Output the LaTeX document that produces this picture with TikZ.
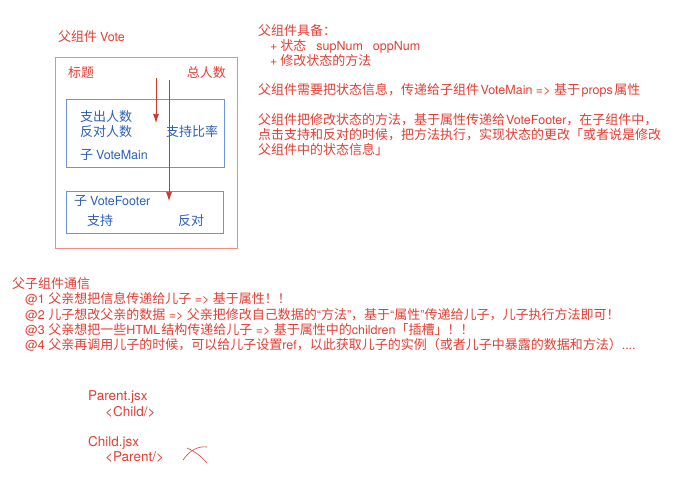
\documentclass[tikz,border=0pt]{standalone}
\usepackage{fontspec}
\setmainfont{Noto Sans CJK SC}
\newfontfamily\latfam{TeX Gyre Heros}
\newcommand{\lsf}[1]{{\latfam\fontsize{12.5}{15}\selectfont #1}}
\newcommand{\codesf}[1]{{\latfam\fontsize{13.5}{16}\selectfont #1}}
\usetikzlibrary{arrows.meta}
\definecolor{redtext}{RGB}{226,62,52}
\definecolor{bluetext}{RGB}{45,95,185}
\definecolor{outerline}{RGB}{242,140,130}
\definecolor{innerline}{RGB}{110,150,215}
\definecolor{arrowred}{RGB}{205,55,45}
\tikzset{
  rt/.style={inner sep=0pt, anchor=base west, text=redtext, font=\fontsize{13}{15}\selectfont},
  rte/.style={rt, anchor=base east},
  bt/.style={inner sep=0pt, anchor=base west, text=bluetext, font=\fontsize{13}{15}\selectfont},
  outerbox/.style={draw=outerline, line width=0.9pt, inner sep=0pt, anchor=north west},
  innerbox/.style={draw=innerline, line width=0.9pt, inner sep=0pt, anchor=north west},
  flow/.style={draw=arrowred, line width=0.7pt, -{Latex[length=9pt,width=6pt]}},
  scrawl/.style={draw=redtext, line width=0.6pt, line cap=round}
}
\begin{document}
\begin{tikzpicture}[x=1pt,y=-1pt]
\fill[white] (0,0) rectangle (682,502);
\useasboundingbox (0,0) rectangle (682,502);

% left diagram
\node[rt] (vote) at (58,42) {父组件 \lsf{Vote}};
\node[outerbox, minimum width=182pt, minimum height=191pt] (outer) at (55,57) {};
\node[rt] (title) at (68,78) {标题};
\node[rte] (total) at (226,78) {总人数};

\node[innerbox, minimum width=158pt, minimum height=68pt] (mainbox) at (66,99) {};
\node[bt] (sup) at (80,121.5) {支出人数};
\node[bt] (opp) at (80,136.5) {反对人数};
\node[bt] (rate) at (166,136.5) {支持比率};
\node[bt] (mainlbl) at (80,159.5) {子 \lsf{VoteMain}};

\node[innerbox, minimum width=157pt, minimum height=42pt] (footbox) at (66,191) {};
\node[bt] (footlbl) at (74,206) {子 \lsf{VoteFooter}};
\node[bt] (support) at (87,226) {支持};
\node[bt] (against) at (178,226) {反对};

\coordinate (a1s) at (156,78);
\coordinate (a1e) at (156,123);
\coordinate (a2s) at (169,80);
\coordinate (a2e) at (169,201);
\draw[flow] (a1s) -- (a1e);
\draw[flow] (a2s) -- (a2e);

% right notes
\node[rt] (r1) at (258,36) {父组件具备：};
\node[rt] (r2) at (270,50.5) {\lsf{+} 状态\hspace{10pt}\lsf{supNum}\hspace{10pt}\lsf{oppNum}};
\node[rt] (r3) at (270,66) {\lsf{+} 修改状态的方法};
\node[rt] (r4) at (258,95) {父组件需要把状态信息，传递给子组件\hspace{1.5pt}\lsf{VoteMain => }基于\hspace{1.5pt}\lsf{props}\hspace{1.5pt}属性};
\node[rt] (r5) at (258,125) {父组件把修改状态的方法，基于属性传递给\hspace{1pt}\lsf{VoteFooter}，在子组件中，};
\node[rt] (r6) at (258,140) {点击支持和反对的时候，把方法执行，实现状态的更改「或者说是修改};
\node[rt] (r7) at (258,155) {父组件中的状态信息」};

% bottom notes
\node[rt] (b0) at (12,288.5) {父子组件通信};
\node[rt] (b1) at (25,304) {\lsf{@1 }父亲想把信息传递给儿子\lsf{ => }基于属性！！};
\node[rt] (b2) at (25,319.5) {\lsf{@2 }儿子想改父亲的数据\lsf{ => }父亲把修改自己数据的\lsf{“}方法\lsf{”}，基于\lsf{“}属性\lsf{”}传递给儿子，儿子执行方法即可！};
\node[rt] (b3) at (25,334.5) {\lsf{@3 }父亲想把一些\lsf{HTML}\hspace{1pt}结构传递给儿子\lsf{ => }基于属性中的\lsf{children}「插槽」！！};
\node[rt] (b4) at (25,349.5) {\lsf{@4 }父亲再调用儿子的时候，可以给儿子设置\lsf{ref}，以此获取儿子的实例（或者儿子中暴露的数据和方法）\lsf{....}};

% code
\node[rt] (c1) at (88,400) {\codesf{Parent.jsx}};
\node[rt] (c2) at (105,416.5) {\codesf{<Child/>}};
\node[rt] (c3) at (88,446.5) {\codesf{Child.jsx}};
\node[rt] (c4) at (105,461.5) {\codesf{<Parent/>}};

% cross mark
\draw[scrawl] (183,460) .. controls (190,450) and (198,446) .. (207,447);
\draw[scrawl] (187,448) .. controls (196,452) and (202,457) .. (207,463);
\end{tikzpicture}
\end{document}
